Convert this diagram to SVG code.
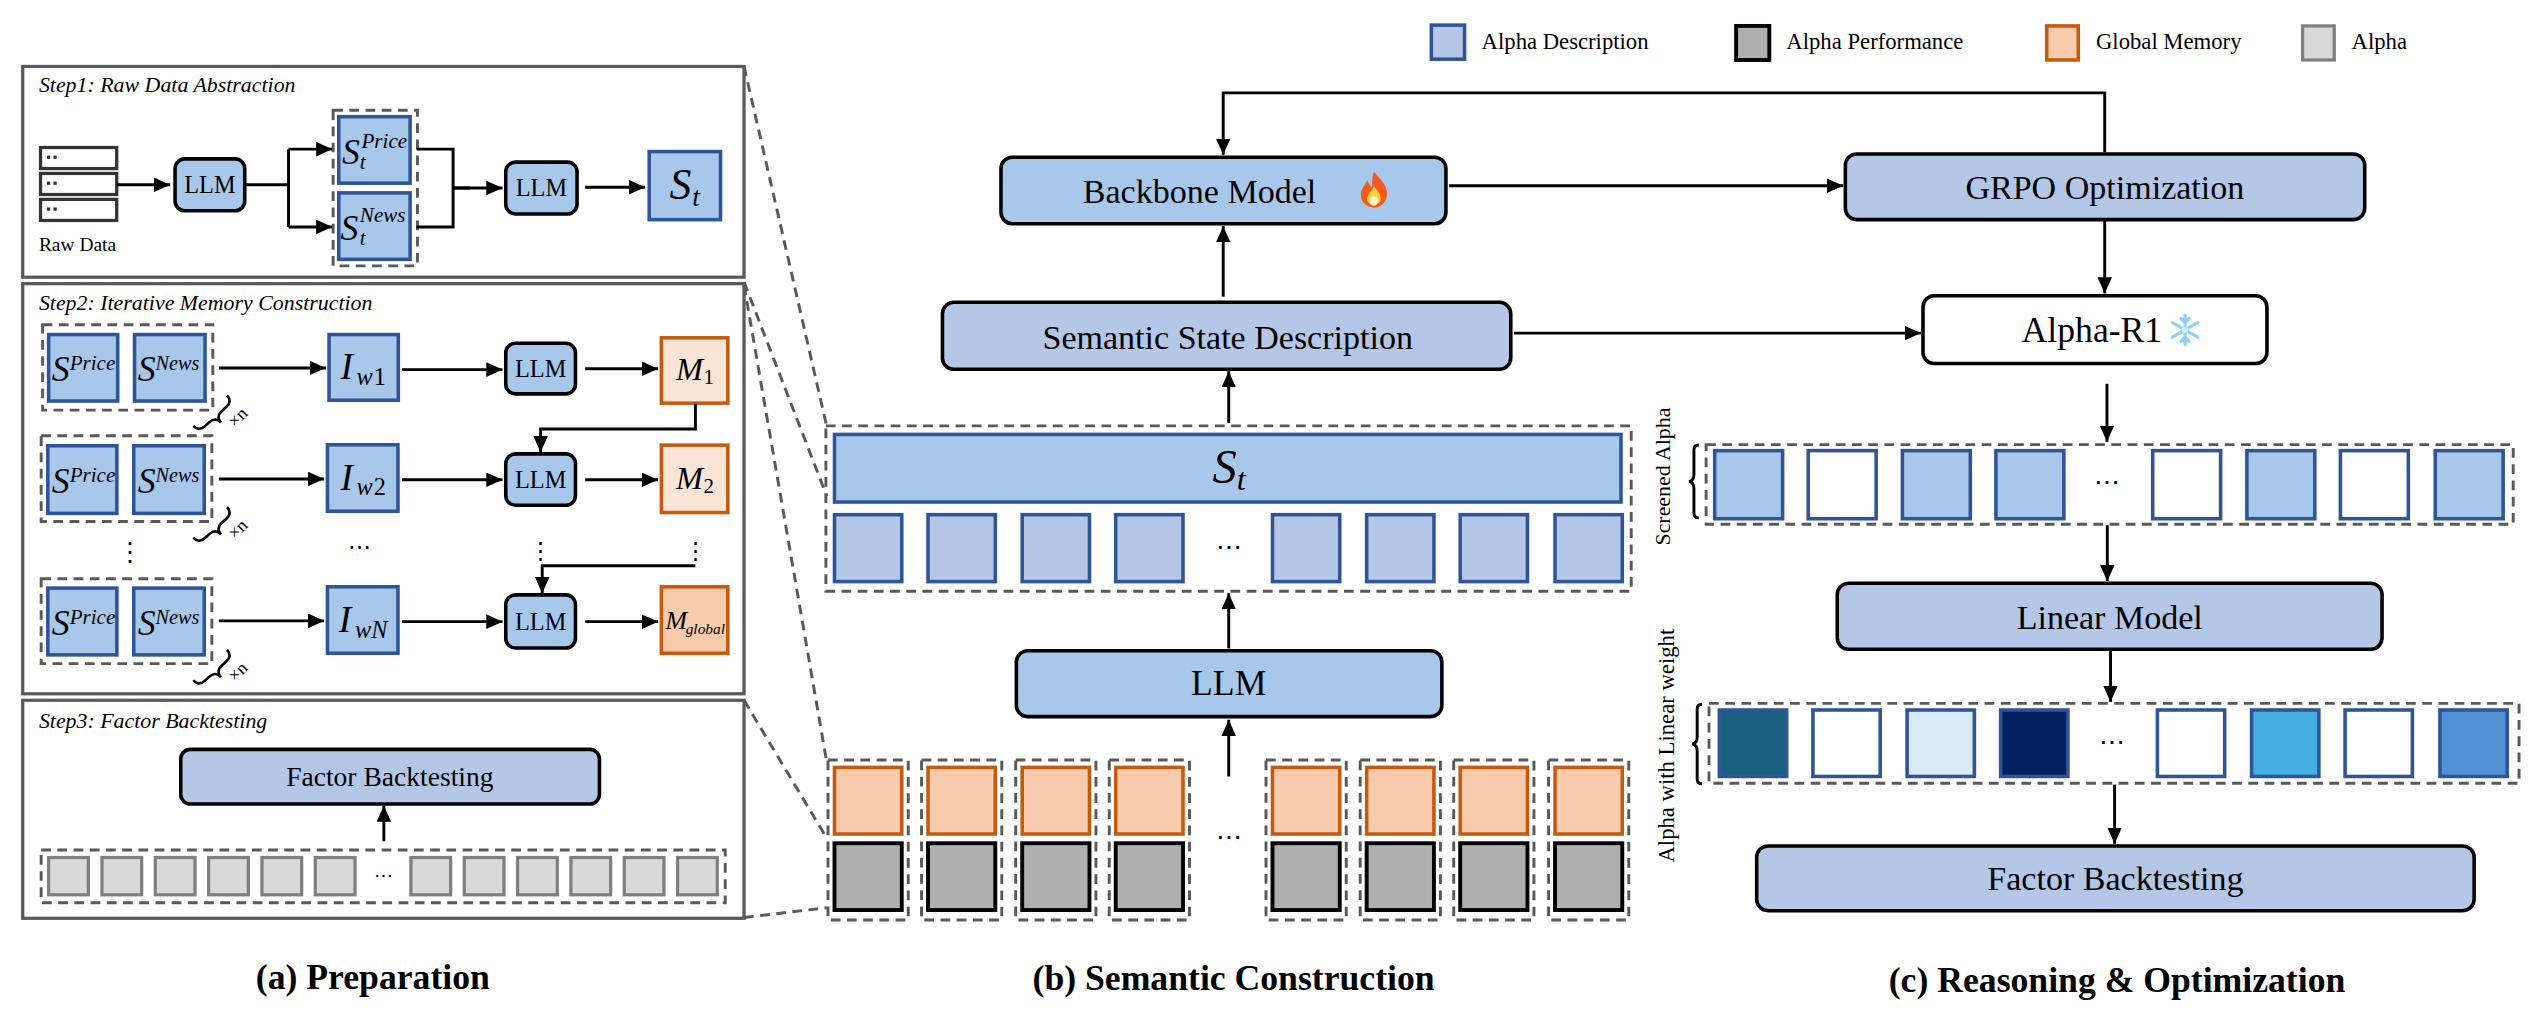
<svg xmlns="http://www.w3.org/2000/svg" width="2542" height="1034" viewBox="0 0 2542 1034">
<style>
text{font-family:"Liberation Serif","Times New Roman",serif;fill:#000}
.it{font-style:italic}
.ttl{font-size:22px;font-weight:bold;text-anchor:middle}
.panel{fill:none;stroke:#595959;stroke-width:2}
.dash{fill:none;stroke:#595959;stroke-width:1.8;stroke-dasharray:6 4}
.blk{fill:#a7c8ea;stroke:#000;stroke-width:2.2}
.blk2{fill:#b4c7e7;stroke:#000;stroke-width:2.2}
.sq{fill:#a7c8ea;stroke:#2f5597;stroke-width:2.2}
.sq2{fill:#b4c7e7;stroke:#2f5597;stroke-width:2.2}
.sqw{fill:#fff;stroke:#2f5597;stroke-width:2.2}
.mem{fill:#fbe5d6;stroke:#c55a11;stroke-width:2.2}
.memg{fill:#f8cbad;stroke:#c55a11;stroke-width:2.2}
.perf{fill:#afafaf;stroke:#000;stroke-width:2.4}
.alpha{fill:#d9d9d9;stroke:#7f7f7f;stroke-width:2}
.ln{fill:none;stroke:#000;stroke-width:1.8}
.ar{fill:none;stroke:#000;stroke-width:1.8;marker-end:url(#ah)}
.c{text-anchor:middle}
</style>
<defs>
<marker id="ah" markerUnits="userSpaceOnUse" markerWidth="10" markerHeight="10" refX="10" refY="4.5" orient="auto"><path d="M0,0 L10,4.5 L0,9 z" fill="#000"/></marker>
</defs>
<g transform="scale(1.621)">
<!-- zoom lines -->
<g id="zoomlines">
<path class="dash" d="M459,41 L510,263 M459,174 L510,306 M459,176 L510,470 M459,432 L510,517 M459,566 L510,560"/>
</g>

<!-- Panel A -->
<g id="step1">
<rect class="panel" x="14" y="41" width="445" height="130"/>
<text class="it" x="24" y="57" font-size="13.5">Step1: Raw Data Abstraction</text>
<g id="rawdata">
<rect x="25" y="91" width="47" height="13" fill="#fff" stroke="#333" stroke-width="2"/>
<rect x="25" y="107" width="47" height="13" fill="#fff" stroke="#333" stroke-width="2"/>
<rect x="25" y="123" width="47" height="13" fill="#fff" stroke="#333" stroke-width="2"/>
<rect x="29" y="96" width="2" height="2" fill="#333"/><rect x="33" y="96" width="2" height="2" fill="#333"/>
<rect x="29" y="112" width="2" height="2" fill="#333"/><rect x="33" y="112" width="2" height="2" fill="#333"/>
<rect x="29" y="128" width="2" height="2" fill="#333"/><rect x="33" y="128" width="2" height="2" fill="#333"/>
<text x="24" y="155" font-size="12">Raw Data</text>
</g>
<g id="llm_a1"><rect class="blk" x="108" y="98" width="43" height="32" rx="6"/><text class="c" x="129.5" y="119" font-size="15">LLM</text></g>
<rect class="dash" x="205.5" y="68" width="52" height="96"/>
<g id="sprice1"><rect class="sq" x="209" y="72" width="44" height="41"/>
<text class="it" x="211" y="101" font-size="22">S</text><text class="it" x="223" y="91" font-size="13">Price</text><text class="it" x="222" y="104" font-size="13">t</text></g>
<g id="snews1"><rect class="sq" x="209" y="119" width="44" height="41"/>
<text class="it" x="210" y="148" font-size="22">S</text><text class="it" x="222" y="137" font-size="13">News</text><text class="it" x="222" y="151" font-size="13">t</text></g>
<g id="llm_a2"><rect class="blk" x="312" y="100" width="44" height="32" rx="6"/><text class="c" x="334" y="121" font-size="15">LLM</text></g>
<g id="st_a"><rect class="sq" x="400.5" y="93.5" width="44" height="42"/>
<text class="it" x="413" y="123" font-size="27">S</text><text class="it" x="427" y="127" font-size="17">t</text></g>
</g>

<g id="step2">
<rect class="panel" x="14" y="175" width="445" height="253"/>
<text class="it" x="24" y="191" font-size="13.5">Step2: Iterative Memory Construction</text>
<!-- row1 -->
<rect class="dash" x="26.3" y="200.3" width="105" height="52.7"/>
<g id="r1p"><rect class="sq" x="30" y="206.4" width="42.6" height="41"/><text class="it" x="32" y="235" font-size="22">S</text><text class="it" x="43" y="228.5" font-size="13">Price</text></g>
<g id="r1n"><rect class="sq" x="83" y="206.4" width="43.5" height="41"/><text class="it" x="85" y="235" font-size="22">S</text><text class="it" x="96" y="228.5" font-size="12.5">News</text></g>
<g id="iw1"><rect class="sq" x="203" y="206.4" width="42.7" height="40.5"/><text class="it" x="210" y="234" font-size="23">I</text><text class="it" x="220" y="237.5" font-size="15">w</text><text x="230.5" y="237.5" font-size="15">1</text></g>
<g id="llm_r1"><rect class="blk" x="312" y="211.7" width="43" height="31.3" rx="6"/><text class="c" x="333.5" y="232.5" font-size="15">LLM</text></g>
<g id="m1"><rect class="mem" x="408" y="208.4" width="41" height="40.3"/><text class="it" x="417" y="234.5" font-size="20">M</text><text x="434" y="237" font-size="13">1</text></g>
<!-- row2 -->
<rect class="dash" x="25.4" y="268.8" width="105.3" height="52.9"/>
<g id="r2p"><rect class="sq" x="29.5" y="275" width="42.6" height="41.7"/><text class="it" x="32" y="304" font-size="22">S</text><text class="it" x="43" y="297.5" font-size="13">Price</text></g>
<g id="r2n"><rect class="sq" x="82.5" y="275" width="43.5" height="41.7"/><text class="it" x="85" y="304" font-size="22">S</text><text class="it" x="96" y="297.5" font-size="12.5">News</text></g>
<g id="iw2"><rect class="sq" x="202" y="274.4" width="43.5" height="41"/><text class="it" x="210" y="302" font-size="23">I</text><text class="it" x="220" y="305.5" font-size="15">w</text><text x="230.5" y="305.5" font-size="15">2</text></g>
<g id="llm_r2"><rect class="blk" x="312" y="280" width="43" height="31.7" rx="6"/><text class="c" x="333.5" y="301" font-size="15">LLM</text></g>
<g id="m2"><rect class="mem" x="408" y="274.6" width="41" height="41.6"/><text class="it" x="417" y="301.5" font-size="20">M</text><text x="434" y="304" font-size="13">2</text></g>
<!-- dots -->
<text class="c" x="80" y="346" font-size="16" font-family="DejaVu Sans">⋮</text>
<text class="c" x="222" y="342" font-size="14" font-family="DejaVu Sans">⋯</text>
<text class="c" x="333.5" y="344" font-size="14" font-family="DejaVu Sans">⋮</text>
<text class="c" x="429" y="344" font-size="14" font-family="DejaVu Sans">⋮</text>
<!-- row3 -->
<rect class="dash" x="25.4" y="357" width="105.3" height="52.4"/>
<g id="r3p"><rect class="sq" x="29.5" y="362.8" width="42.6" height="41.2"/><text class="it" x="32" y="391.5" font-size="22">S</text><text class="it" x="43" y="385" font-size="13">Price</text></g>
<g id="r3n"><rect class="sq" x="82.5" y="362.8" width="43.5" height="41.2"/><text class="it" x="85" y="391.5" font-size="22">S</text><text class="it" x="96" y="385" font-size="12.5">News</text></g>
<g id="iwn"><rect class="sq" x="202" y="362" width="43.5" height="41"/><text class="it" x="209" y="390" font-size="23">I</text><text class="it" x="219" y="393.5" font-size="15">wN</text></g>
<g id="llm_r3"><rect class="blk" x="312" y="367" width="43" height="32.8" rx="6"/><text class="c" x="333.5" y="388.5" font-size="15">LLM</text></g>
<g id="mg"><rect class="memg" x="408" y="362" width="41" height="41"/><text class="it" x="410.5" y="388" font-size="16">M</text><text class="it" x="423" y="391" font-size="9.5">global</text></g>
<!-- braces -->
<g id="braces" fill="none" stroke="#000" stroke-width="1.6">
<path transform="translate(133,257) rotate(-42)" d="M-14,-5 q0,5 5,5 h4 q5,0 5,5 q0,-5 5,-5 h4 q5,0 5,-5"/>
<path transform="translate(133,326) rotate(-42)" d="M-14,-5 q0,5 5,5 h4 q5,0 5,5 q0,-5 5,-5 h4 q5,0 5,-5"/>
<path transform="translate(133,414) rotate(-42)" d="M-14,-5 q0,5 5,5 h4 q5,0 5,5 q0,-5 5,-5 h4 q5,0 5,-5"/>
</g>
<text transform="translate(145,264) rotate(-45)" font-size="11">×n</text>
<text transform="translate(145,333) rotate(-45)" font-size="11">×n</text>
<text transform="translate(145,421) rotate(-45)" font-size="11">×n</text>
</g>

<g id="step3">
<rect class="panel" x="14" y="432" width="445" height="134.5"/>
<text class="it" x="24" y="449" font-size="13.5">Step3: Factor Backtesting</text>
<g id="fb_a"><rect class="blk2" x="111.5" y="462.3" width="258.3" height="33.7" rx="6"/><text class="c" x="240.5" y="485" font-size="17">Factor Backtesting</text></g>
<rect class="dash" x="25.4" y="524.4" width="422" height="32.5"/>
<g id="alphas_a">
<rect class="alpha" x="30" y="529" width="24.5" height="23"/><rect class="alpha" x="62.9" y="529" width="24.5" height="23"/><rect class="alpha" x="95.8" y="529" width="24.5" height="23"/><rect class="alpha" x="128.7" y="529" width="24.5" height="23"/><rect class="alpha" x="161.6" y="529" width="24.5" height="23"/><rect class="alpha" x="194.5" y="529" width="24.5" height="23"/>
<rect class="alpha" x="253.5" y="529" width="24.5" height="23"/><rect class="alpha" x="286.4" y="529" width="24.5" height="23"/><rect class="alpha" x="319.3" y="529" width="24.5" height="23"/><rect class="alpha" x="352.2" y="529" width="24.5" height="23"/><rect class="alpha" x="385.1" y="529" width="24.5" height="23"/><rect class="alpha" x="418" y="529" width="24.5" height="23"/>
<text class="c" x="236.5" y="544" font-size="12" font-family="DejaVu Sans">⋯</text>
</g>
</g>
<text class="ttl" x="230" y="610">(a) Preparation</text>

<!-- Panel B -->
<g id="legend">
<rect class="sq2" x="883" y="15.5" width="20.5" height="21"/><text x="914" y="30" font-size="14">Alpha Description</text>
<rect class="perf" x="1071" y="16" width="20.5" height="21"/><text x="1102" y="30" font-size="14">Alpha Performance</text>
<rect class="memg" x="1262.6" y="16" width="19.5" height="21"/><text x="1293" y="30" font-size="14">Global Memory</text>
<rect class="alpha" x="1420.5" y="16" width="19.5" height="21"/><text x="1450.7" y="30" font-size="14">Alpha</text>
</g>
<g id="backbone"><rect class="blk" x="617.5" y="97" width="274.5" height="41" rx="7"/><text class="c" x="740" y="125" font-size="21">Backbone Model</text>
<g transform="translate(847.5,117)"><path d="M0,-11 C6,-5 9,0 8,4 C7,9 3,11 0,11 C-4,11 -8,8 -8,3 C-8,-1 -5,-3 -4,-6 C-3,-3 -2,-2 -1,-2 C-1,-5 -1,-8 0,-11 Z" fill="#f4581c"/><path d="M0,-2 C3,1 5,4 4,7 C3,10 -3,10 -4,7 C-5,4 -2,2 0,-2 Z" fill="#ffd23f"/><ellipse cx="0" cy="7" rx="2.5" ry="3" fill="#fff7c9"/></g>
</g>
<g id="semantic"><rect class="blk2" x="581.4" y="186.5" width="350.6" height="41.3" rx="7"/><text class="c" x="757.4" y="215" font-size="21">Semantic State Description</text></g>
<rect class="dash" x="509.5" y="262.7" width="496.8" height="102"/>
<g id="st_b"><rect class="sq" x="514.8" y="268" width="485.2" height="41.7"/><text class="it" x="748" y="298" font-size="30">S</text><text class="it" x="763" y="302" font-size="20">t</text></g>
<g id="desc_b">
<rect class="sq2" x="514.8" y="317.5" width="41.5" height="41.3"/><rect class="sq2" x="572.5" y="317.5" width="41.5" height="41.3"/><rect class="sq2" x="630.6" y="317.5" width="41.5" height="41.3"/><rect class="sq2" x="688.3" y="317.5" width="41.5" height="41.3"/>
<rect class="sq2" x="785" y="317.5" width="41.5" height="41.3"/><rect class="sq2" x="843.1" y="317.5" width="41.5" height="41.3"/><rect class="sq2" x="900.8" y="317.5" width="41.5" height="41.3"/><rect class="sq2" x="959.3" y="317.5" width="41.5" height="41.3"/>
<text class="c" x="758" y="343" font-size="16" font-family="DejaVu Sans">⋯</text>
</g>
<g id="llm_b"><rect class="blk" x="627" y="401.4" width="262.5" height="40.7" rx="7"/><text class="c" x="758" y="429" font-size="22">LLM</text></g>
<g id="mem_b">
<g id="col1"><rect class="dash" x="510.8" y="468.8" width="49.5" height="98.7"/><rect class="memg" x="514.8" y="473.4" width="41.5" height="41.1"/><rect class="perf" x="514.8" y="520.2" width="41.5" height="41.2"/></g>
<g id="col2"><rect class="dash" x="568.5" y="468.8" width="49.5" height="98.7"/><rect class="memg" x="572.5" y="473.4" width="41.5" height="41.1"/><rect class="perf" x="572.5" y="520.2" width="41.5" height="41.2"/></g>
<g id="col3"><rect class="dash" x="626.6" y="468.8" width="49.5" height="98.7"/><rect class="memg" x="630.6" y="473.4" width="41.5" height="41.1"/><rect class="perf" x="630.6" y="520.2" width="41.5" height="41.2"/></g>
<g id="col4"><rect class="dash" x="684.3" y="468.8" width="49.5" height="98.7"/><rect class="memg" x="688.3" y="473.4" width="41.5" height="41.1"/><rect class="perf" x="688.3" y="520.2" width="41.5" height="41.2"/></g>
<g id="col5"><rect class="dash" x="781" y="468.8" width="49.5" height="98.7"/><rect class="memg" x="785" y="473.4" width="41.5" height="41.1"/><rect class="perf" x="785" y="520.2" width="41.5" height="41.2"/></g>
<g id="col6"><rect class="dash" x="839.1" y="468.8" width="49.5" height="98.7"/><rect class="memg" x="843.1" y="473.4" width="41.5" height="41.1"/><rect class="perf" x="843.1" y="520.2" width="41.5" height="41.2"/></g>
<g id="col7"><rect class="dash" x="896.8" y="468.8" width="49.5" height="98.7"/><rect class="memg" x="900.8" y="473.4" width="41.5" height="41.1"/><rect class="perf" x="900.8" y="520.2" width="41.5" height="41.2"/></g>
<g id="col8"><rect class="dash" x="955.3" y="468.8" width="49.5" height="98.7"/><rect class="memg" x="959.3" y="473.4" width="41.5" height="41.1"/><rect class="perf" x="959.3" y="520.2" width="41.5" height="41.2"/></g>
<text class="c" x="758" y="522" font-size="16" font-family="DejaVu Sans">⋯</text>
</g>
<text class="ttl" x="761" y="611">(b) Semantic Construction</text>

<!-- Panel C -->
<g id="grpo"><rect class="blk2" x="1138.4" y="95" width="320.4" height="40.5" rx="7"/><text class="c" x="1298.5" y="122.5" font-size="21">GRPO Optimization</text></g>
<g id="alphar1"><rect x="1186.3" y="182.4" width="212.2" height="41.9" rx="7" fill="#fff" stroke="#000" stroke-width="2.2"/><text class="c" x="1290.5" y="211" font-size="22">Alpha-R1</text>
<g transform="translate(1348,203.5)" stroke="#8fd0f5" stroke-width="2" stroke-linecap="round"><path d="M0,-9 V9 M-7.8,-4.5 L7.8,4.5 M-7.8,4.5 L7.8,-4.5 M-2.5,-7 L0,-4.5 L2.5,-7 M-2.5,7 L0,4.5 L2.5,7"/><circle r="2" fill="#cdeeff" stroke="none"/></g>
</g>
<rect class="dash" x="1052.5" y="274.3" width="497.9" height="49.1"/>
<g id="screened">
<rect class="sq" x="1057.8" y="278" width="41.9" height="42"/><rect class="sqw" x="1115.5" y="278" width="41.9" height="42"/><rect class="sq" x="1173.6" y="278" width="41.9" height="42"/><rect class="sq" x="1231.3" y="278" width="41.9" height="42"/>
<rect class="sqw" x="1328" y="278" width="41.9" height="42"/><rect class="sq" x="1386.1" y="278" width="41.9" height="42"/><rect class="sqw" x="1443.8" y="278" width="41.9" height="42"/><rect class="sq" x="1502.3" y="278" width="41.9" height="42"/>
<text class="c" x="1300" y="303" font-size="16" font-family="DejaVu Sans">⋯</text>
</g>
<path class="ln" d="M1048,274.5 q-3,0 -3,3 v15 q0,4 -3,4.5 q3,0.5 3,4.5 v15 q0,3 3,3"/>
<text class="c" transform="translate(1030,294) rotate(-90)" font-size="13.5">Screened Alpha</text>
<g id="linear"><rect class="blk2" x="1133.4" y="359.8" width="336.1" height="40.7" rx="7"/><text class="c" x="1301.5" y="388" font-size="21">Linear Model</text></g>
<rect class="dash" x="1054.3" y="433.9" width="499.7" height="49.3"/>
<g id="weighted" stroke="#2f5597" stroke-width="2.2">
<rect x="1060.7" y="438" width="41.5" height="41" fill="#1a5e80"/><rect x="1118.4" y="438" width="41.5" height="41" fill="#fff"/><rect x="1176.5" y="438" width="41.5" height="41" fill="#dce9f6"/><rect x="1234.2" y="438" width="41.5" height="41" fill="#022160"/>
<rect x="1330.9" y="438" width="41.5" height="41" fill="#fff"/><rect x="1389" y="438" width="41.5" height="41" fill="#45b0e0"/><rect x="1446.7" y="438" width="41.5" height="41" fill="#fff"/><rect x="1505.2" y="438" width="41.5" height="41" fill="#4f93d6"/>
</g>
<text class="c" x="1302.7" y="463" font-size="16" font-family="DejaVu Sans">⋯</text>
<path class="ln" d="M1050,434.5 q-3,0 -3,3 v17 q0,4 -3,4.5 q3,0.5 3,4.5 v17 q0,3 3,3"/>
<text class="c" transform="translate(1033,460) rotate(-90)" font-size="14">Alpha with Linear weight</text>
<g id="fb_c"><rect class="blk2" x="1083.7" y="521.9" width="442.6" height="39.9" rx="7"/><text class="c" x="1305" y="549" font-size="21">Factor Backtesting</text></g>
<text class="ttl" x="1306" y="612">(c) Reasoning &amp; Optimization</text>

<!-- connectors -->
<g id="connectors">
<path class="ar" d="M72,114 H105"/>
<path class="ln" d="M151,114 H178 M178,92 V140"/>
<path class="ar" d="M178,92 H205"/>
<path class="ar" d="M178,140 H205"/>
<path class="ln" d="M257,92 H279.5 V140 H257 M279.5,116 H290"/>
<path class="ar" d="M279.5,116 H310"/>
<path class="ar" d="M361,115.5 H398"/>
<path class="ar" d="M135,227 H201"/>
<path class="ar" d="M248,228 H310"/>
<path class="ar" d="M361,227.5 H406"/>
<path class="ar" d="M429,249 V264.6 H333.5 V279"/>
<path class="ar" d="M135,295.5 H200"/>
<path class="ar" d="M248,296 H310"/>
<path class="ar" d="M361,296 H406"/>
<path class="ar" d="M429,349 H334.5 V366"/>
<path class="ar" d="M135,383 H200"/>
<path class="ar" d="M248,383.5 H310"/>
<path class="ar" d="M361,383.5 H406"/>
<path class="ar" d="M236.8,519 V497"/>
<path class="ar" d="M758,400 V366"/>
<path class="ar" d="M758,479 V444"/>
<path class="ar" d="M758,261 V229"/>
<path class="ar" d="M754.6,183 V139.5"/>
<path class="ar" d="M1298.4,94 V57.3 H754.6 V95.5"/>
<path class="ar" d="M894,114.6 H1137"/>
<path class="ar" d="M934,205.5 H1185"/>
<path class="ar" d="M1298.4,136 V181"/>
<path class="ar" d="M1299.8,236.8 V272.5"/>
<path class="ar" d="M1300,324 V358.5"/>
<path class="ar" d="M1302,401 V433"/>
<path class="ar" d="M1304.5,484 V520.5"/>
</g>
</g>
</svg>
